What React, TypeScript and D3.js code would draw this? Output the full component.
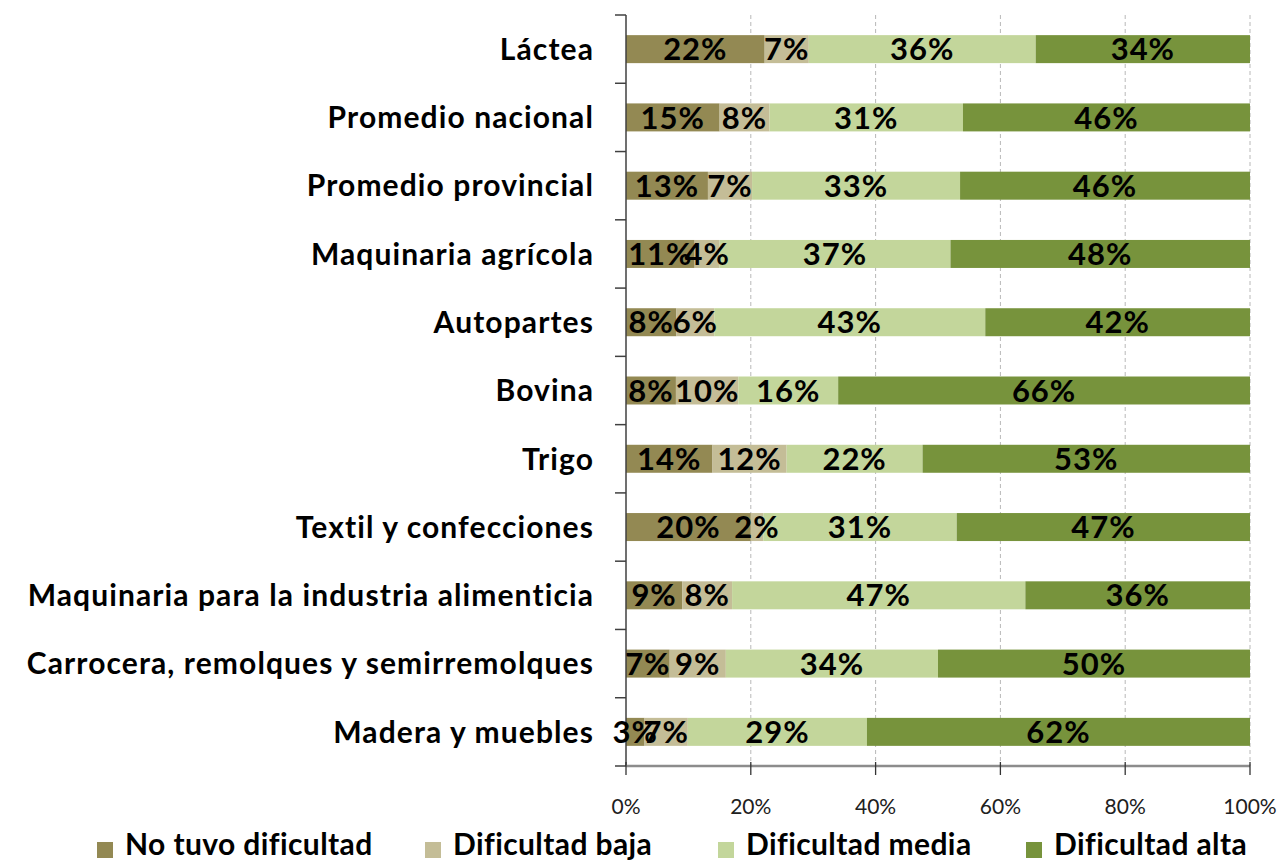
import React from "react";
import * as d3 from "d3";

const categories = [
  "Láctea",
  "Promedio nacional",
  "Promedio provincial",
  "Maquinaria agrícola",
  "Autopartes",
  "Bovina",
  "Trigo",
  "Textil y confecciones",
  "Maquinaria para la industria alimenticia",
  "Carrocera, remolques y semirremolques",
  "Madera y muebles",
];
const seriesNames = ["No tuvo dificultad", "Dificultad baja", "Dificultad media", "Dificultad alta"];
const noTuvo = [22, 15, 13, 11, 8, 8, 14, 20, 9, 7, 3];
const baja = [7, 8, 7, 4, 6, 10, 12, 2, 8, 9, 7];
const media = [36, 31, 33, 37, 43, 16, 22, 31, 47, 34, 29];
const alta = [34, 46, 46, 48, 42, 66, 53, 47, 36, 50, 62];
const colors = ["#938953", "#C4BD97", "#C3D69B", "#77933C"];
const xTicks = [0, 0.2, 0.4, 0.6, 0.8, 1];

const W = 1282;
const H = 861;
const FONT = "Lato, 'Open Sans', sans-serif";

export default function App() {
  const rows = categories.map((c, i) => ({
    cat: c,
    "No tuvo dificultad": noTuvo[i],
    "Dificultad baja": baja[i],
    "Dificultad media": media[i],
    "Dificultad alta": alta[i],
  }));
  const stack = d3.stack<any>().keys(seriesNames).offset(d3.stackOffsetExpand);
  const layers = stack(rows);

  const x = d3.scaleLinear().domain([0, 1]).range([626, 1250]);
  const y = d3
    .scaleBand<string>()
    .domain(categories)
    .range([15, 766])
    .paddingInner(0.59)
    .paddingOuter(0.295);
  const step = y.step();
  const bw = y.bandwidth();
  const pctFmt = d3.format(".0%");

  const legendX = [97, 425, 718, 1026];

  return (
    <svg
      width={W}
      height={H}
      style={{ position: "absolute", left: 0, top: 0, display: "block", background: "#fff" }}
      fontFamily={FONT}
    >
      {/* gridlines */}
      {xTicks.slice(1).map((t) => (
        <line
          key={"g" + t}
          x1={x(t)}
          x2={x(t)}
          y1={15}
          y2={766}
          stroke="#b8b8b8"
          strokeWidth={1}
          strokeDasharray="4,3"
        />
      ))}
      {/* bars */}
      {layers.map((layer, li) =>
        layer.map((d, i) => (
          <rect
            key={li + "-" + i}
            x={x(d[0])}
            y={y(categories[i])!}
            width={x(d[1]) - x(d[0])}
            height={bw}
            fill={colors[li]}
          />
        ))
      )}
      {/* y axis */}
      <line x1={626} x2={626} y1={15} y2={766} stroke="#404040" strokeWidth={1.5} />
      {d3.range(categories.length + 1).map((k) => {
        const yy = 15 + k * step;
        return <line key={"yt" + k} x1={615} x2={626} y1={yy} y2={yy} stroke="#404040" strokeWidth={1.5} />;
      })}
      {/* x axis */}
      <line x1={626} x2={1250} y1={766} y2={766} stroke="#8c8c8c" strokeWidth={2.5} />
      {xTicks.map((t) => (
        <g key={"xt" + t}>
          <line x1={x(t)} x2={x(t)} y1={762} y2={775} stroke="#333" strokeWidth={1.3} />
          <text x={x(t)} y={814} textAnchor="middle" fontSize={21} fill="#202020">
            {pctFmt(t)}
          </text>
        </g>
      ))}
      {/* data labels */}
      {layers.map((layer, li) =>
        layer.map((d, i) => {
          const v = [noTuvo, baja, media, alta][li][i];
          return (
            <text
              key={"l" + li + "-" + i}
              x={(x(d[0]) + x(d[1])) / 2}
              y={y(categories[i])! + bw / 2}
              dy="0.36em"
              textAnchor="middle"
              fontSize={31}
              fontWeight="bold"
              letterSpacing={1}
              fill="#000"
            >
              {v + "%"}
            </text>
          );
        })
      )}
      {/* category labels */}
      {categories.map((c) => (
        <text
          key={"c" + c}
          x={594}
          y={y(c)! + bw / 2}
          dy="0.36em"
          textAnchor="end"
          fontSize={30}
          fontWeight="bold"
          letterSpacing={1.1}
          fill="#000"
        >
          {c}
        </text>
      ))}
      {/* legend */}
      {seriesNames.map((s, i) => (
        <g key={"lg" + s} transform={`translate(${legendX[i]},0)`}>
          <rect x={0} y={842} width={16} height={16} fill={colors[i]} />
          <text x={28} y={855} fontSize={30} fontWeight="bold" letterSpacing={0.4} fill="#000">
            {s}
          </text>
        </g>
      ))}
    </svg>
  );
}
